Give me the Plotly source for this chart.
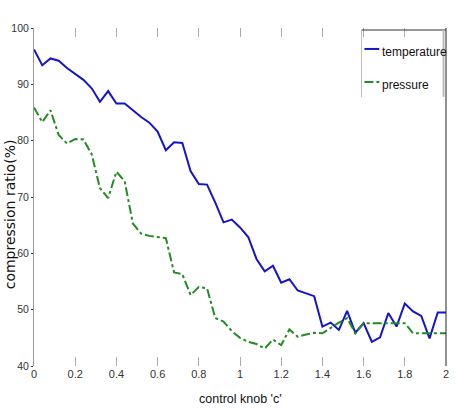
import plotly.graph_objects as go

x_knob = [round(i * 0.04, 2) for i in range(51)]

temperature = [96.2, 93.4, 94.6, 94.2, 92.9, 91.8, 90.8, 89.3, 86.9, 88.8,
               86.6, 86.6, 85.4, 84.2, 83.2, 81.6, 78.3, 79.7, 79.6, 74.6,
               72.3, 72.2, 69.0, 65.5, 66.0, 64.6, 62.9, 59.0, 56.8, 57.8,
               54.8, 55.4, 53.4, 52.9, 52.4, 47.0, 47.7, 46.4, 49.8, 45.9,
               47.6, 44.3, 45.1, 49.4, 47.0, 51.1, 49.7, 48.9, 44.9, 49.5,
               49.5]

pressure = [85.9, 83.3, 85.4, 81.0, 79.5, 80.3, 80.2, 77.6, 71.6, 69.8,
            74.5, 72.8, 65.3, 63.5, 63.1, 62.9, 62.7, 56.6, 56.3, 52.6,
            54.0, 53.8, 48.5, 47.9, 46.2, 45.0, 44.3, 43.9, 43.1, 44.7,
            43.7, 46.5, 45.2, 45.6, 45.9, 45.8, 46.8, 47.7, 48.5, 45.8,
            47.6, 47.6, 47.6, 47.6, 47.6, 47.6, 45.8, 45.8, 45.8, 45.8,
            45.8]

series_names = ["temperature", "pressure"]
x_ticks = [0, 0.2, 0.4, 0.6, 0.8, 1, 1.2, 1.4, 1.6, 1.8, 2]
x_tick_text = ["0", "0.2", "0.4", "0.6", "0.8", "1", "1.2", "1.4", "1.6", "1.8", "2"]
y_ticks = [40, 50, 60, 70, 80, 90, 100]

BLUE = "#1414cc"
GREEN = "#238b23"
FONT = "Liberation Sans, Arial, sans-serif"

fig = go.Figure()
fig.add_trace(go.Scatter(x=x_knob, y=temperature, mode="lines", name=series_names[0],
                         line=dict(color=BLUE, width=2), showlegend=False))
fig.add_trace(go.Scatter(x=x_knob, y=pressure, mode="lines", name=series_names[1],
                         line=dict(color=GREEN, width=2, dash="dashdot"), showlegend=False))

fig.update_layout(
    width=457, height=408,
    margin=dict(l=34, r=8, t=28, b=42),
    paper_bgcolor="white", plot_bgcolor="white",
    font=dict(family=FONT, size=11, color="#222"),
    xaxis=dict(range=[0, 2], tickvals=x_ticks, ticktext=x_tick_text,
               showgrid=False, zeroline=False, showline=False,
               ticks="inside", ticklen=9, tickcolor="#aaaaaa", tickwidth=1,
               mirror="ticks", tickfont=dict(family=FONT, size=11, color="#333")),
    yaxis=dict(range=[40, 100], tickvals=y_ticks,
               showgrid=False, zeroline=False, showline=True, linecolor="#999999",
               linewidth=1, ticks="outside", ticklen=2, tickcolor="#333",
               tickfont=dict(family=FONT, size=10.5, color="#333")),
)

# right axis line
fig.add_shape(type="line", xref="paper", yref="paper", x0=1, x1=1, y0=0, y1=1,
              line=dict(color="#222", width=1))

# axis titles
fig.add_annotation(text="compression ratio(%)", xref="paper", yref="paper",
                   x=-0.0815, y=0.45, textangle=-90, showarrow=False,
                   xanchor="left", yanchor="middle", borderpad=0,
                   font=dict(family="DejaVu Sans, sans-serif", size=14, color="#111"))
fig.add_annotation(text="control knob 'c'", xref="paper", yref="paper",
                   x=0.5, y=-0.098, showarrow=False, xanchor="center", yanchor="middle",
                   font=dict(family=FONT, size=12.5, color="#111"))

# legend box (manual)
lx0, lx1, ly0, ly1 = 0.795, 0.994, 0.796, 0.994
fig.add_shape(type="line", xref="paper", yref="paper", x0=lx0, x1=1, y0=ly1, y1=ly1,
              line=dict(color="#333", width=1))
fig.add_shape(type="line", xref="paper", yref="paper", x0=lx0, x1=lx0, y0=ly0, y1=ly1,
              line=dict(color="#bbbbbb", width=1))
fig.add_shape(type="line", xref="paper", yref="paper", x0=lx1, x1=lx1, y0=ly0, y1=ly1,
              line=dict(color="#bbbbbb", width=2))
legend_rows = [(0.938, BLUE, "solid", series_names[0]), (0.840, GREEN, "dashdot", series_names[1])]
for yy, col, dsh, nm in legend_rows:
    fig.add_shape(type="line", xref="paper", yref="paper", x0=0.802, x1=0.838, y0=yy, y1=yy,
                  line=dict(color=col, width=2, dash=dsh))
    fig.add_annotation(text=nm, xref="paper", yref="paper", x=0.840, y=yy - 0.008,
                       showarrow=False, xanchor="left", yanchor="middle",
                       font=dict(family=FONT, size=12, color="#111"))

fig.write_html("out.html")
